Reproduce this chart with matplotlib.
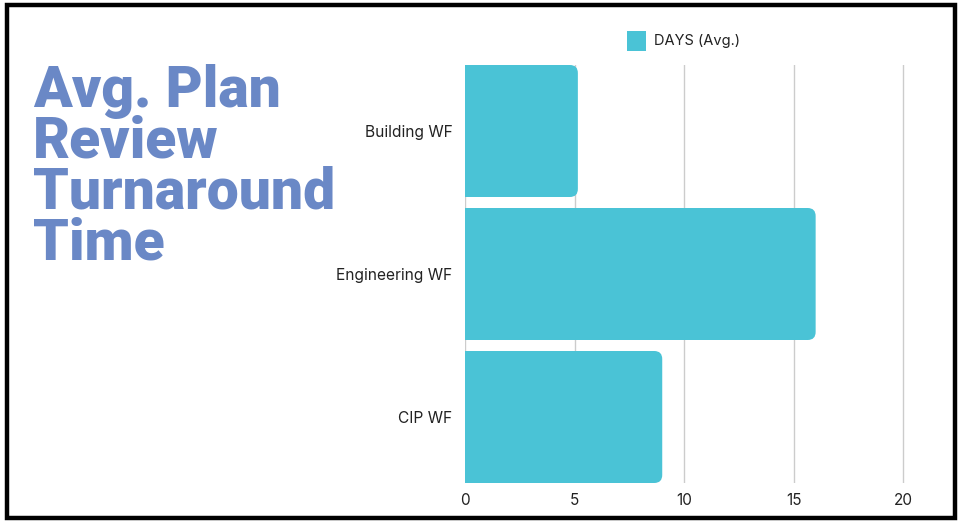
import matplotlib.pyplot as plt
from matplotlib.patches import FancyBboxPatch, Rectangle

categories = ['Building WF', 'Engineering WF', 'CIP WF']
days_avg = [5.15, 16, 9]
x_ticks = [0, 5, 10, 15, 20]

bar_color = '#4ac3d6'
title_color = '#6a88c6'

plt.rcParams['font.family'] = ['Inter', 'DejaVu Sans']

fig = plt.figure(figsize=(9.58, 5.21), dpi=100)
fig.patch.set_facecolor('white')
# black frame round the whole picture
fig.patches.append(Rectangle((7 / 958, 3.5 / 521), 948 / 958, 513 / 521,
                             transform=fig.transFigure, fill=False,
                             edgecolor='black', linewidth=3.2))

W, H = 958, 521
ax = fig.add_axes([465 / W, 1 - 483 / H, (903.3 - 465) / 20 * 22 / W, (483 - 65) / H])

h = 132 / 143
ypos = list(range(len(categories)))
ax.set_xlim(0, 22)
ax.set_ylim(len(categories) - 1 + h / 2, -h / 2)

# rounded right ends: compensate aspect between x and y data units
px_x = ax.transData.transform((1, 0))[0] - ax.transData.transform((0, 0))[0]
px_y = abs(ax.transData.transform((0, 1))[1] - ax.transData.transform((0, 0))[1])
r_px = 8
r = r_px / px_x
aspect = px_x / px_y
for y, v in zip(ypos, days_avg):
    p = FancyBboxPatch((-1, y - h / 2), v + 1, h,
                       boxstyle=f'round,pad=0,rounding_size={r}',
                       mutation_aspect=aspect, facecolor=bar_color,
                       edgecolor='none', zorder=3)
    ax.add_patch(p)

ax.set_xticks(x_ticks)
ax.set_xticklabels([str(t) for t in x_ticks], fontsize=11, color='#222222')
ax.set_yticks(ypos)
ax.set_yticklabels(categories, fontsize=11.2, color='#222222')
ax.tick_params(axis='x', length=0, pad=7)
ax.tick_params(axis='y', length=0, pad=9)
ax.xaxis.grid(True, color='#cccccc', linewidth=1)
ax.set_axisbelow(True)
for s in ax.spines.values():
    s.set_visible(False)

# legend
fig.patches.append(Rectangle((627 / W, 1 - 51 / H), 19 / W, 20 / H,
                             transform=fig.transFigure, facecolor=bar_color,
                             edgecolor='none'))
fig.text(654 / W, 1 - 41 / H, 'DAYS (Avg.)', fontsize=10.5, color='#222222',
         va='center', ha='left')

fig.text(33 / W, 1 - 64 / H, 'Avg. Plan\nReview\nTurnaround\nTime',
         fontsize=41, fontweight='black', color=title_color,
         family=['Roboto', 'DejaVu Sans'],
         va='top', ha='left', linespacing=0.9)

fig.savefig('out.png', dpi=100)
